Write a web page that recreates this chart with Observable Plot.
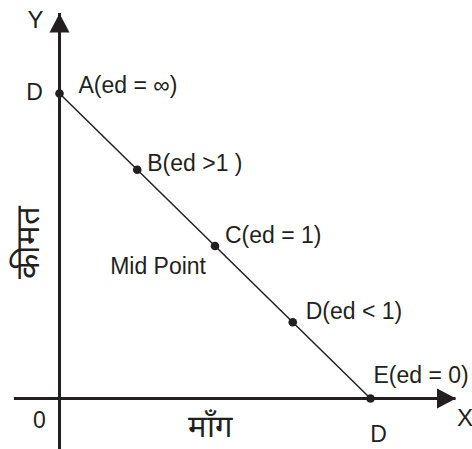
<!DOCTYPE html>
<html>
<head>
<meta charset="utf-8">
<script src="https://cdn.jsdelivr.net/npm/d3@7"></script>
<script src="https://cdn.jsdelivr.net/npm/@observablehq/plot@0.6"></script>
<style>
  html, body { margin: 0; padding: 0; background: #fff; }
  #chart { width: 472px; height: 449px; }
</style>
</head>
<body>
<div id="chart"></div>
<script>
// ---- data ----
const pointNames = ["A", "B", "C", "D", "E"];
const elasticity = ["ed = ∞", "ed >1 ", "ed = 1", "ed < 1", "ed = 0"];
const quantity = [0, 1, 2, 3, 4];
const price = [4, 3, 2, 1, 0];
const xAxisExtent = [-0.58, 5.1];   // quantity axis, drawn from left end to arrow tip
const yAxisExtent = [-0.67, 5.05];  // price axis, drawn from bottom to arrow tip
const axisNames = { x: "X", y: "Y", origin: "0", intercept: "D" };
const xTitle = "माँग";
const yTitle = "कीमत";
const midLabel = "Mid Point";

const ink = "#231f20";
const font = "'Liberation Sans', Arial, Helvetica, sans-serif";

const points = pointNames.map((n, i) => ({
  name: n, q: quantity[i], p: price[i], label: `${n}(${elasticity[i]})`
}));

// arrow head with its tip at the origin, pointing up
const arrowHead = {
  draw(ctx) {
    ctx.moveTo(0, 0);
    ctx.lineTo(-10, 19);
    ctx.lineTo(10, 19);
    ctx.closePath();
  }
};

const labelOffsets = [[19, -1], [10, 1], [10, -3], [13, -3], [3, -16]];

const marks = [
  Plot.ruleY([0], { x1: xAxisExtent[0], x2: xAxisExtent[1], stroke: ink, strokeWidth: 3 }),
  Plot.ruleX([0], { y1: yAxisExtent[0], y2: yAxisExtent[1], stroke: ink, strokeWidth: 3 }),
  Plot.dot([{ q: 0, p: yAxisExtent[1] }], { x: "q", y: "p", symbol: arrowHead, fill: ink, stroke: null, r: 8 }),
  Plot.dot([{ q: xAxisExtent[1], p: 0 }], { x: "q", y: "p", symbol: arrowHead, fill: ink, stroke: null, r: 8, rotate: 90 }),
  Plot.line(points, { x: "q", y: "p", stroke: ink, strokeWidth: 1.5 }),
  Plot.dot(points, { x: "q", y: "p", r: 4.3, fill: ink, stroke: null }),
  ...points.map((d, i) => Plot.text([d], {
    x: "q", y: "p", text: "label", textAnchor: "start", lineAnchor: "bottom",
    dx: labelOffsets[i][0], dy: labelOffsets[i][1], fill: ink, fontSize: 23
  })),
  Plot.text([points[2]], { x: "q", y: "p", text: () => midLabel, textAnchor: "end", lineAnchor: "bottom", dx: -9, dy: 28, fill: ink, fontSize: 23 }),
  // intercept labels
  Plot.text([points[0]], { x: "q", y: "p", text: () => axisNames.intercept, textAnchor: "middle", lineAnchor: "bottom", dx: -25, dy: 6, fill: ink, fontSize: 23 }),
  Plot.text([points[4]], { x: "q", y: "p", text: () => axisNames.intercept, textAnchor: "middle", lineAnchor: "bottom", dx: 8, dy: 43, fill: ink, fontSize: 23 }),
  // origin & axis names
  Plot.text([{ q: 0, p: 0 }], { x: "q", y: "p", text: () => axisNames.origin, textAnchor: "middle", lineAnchor: "bottom", dx: -20, dy: 29, fill: ink, fontSize: 23 }),
  Plot.text([{ q: 0, p: yAxisExtent[1] }], { x: "q", y: "p", text: () => axisNames.y, textAnchor: "middle", lineAnchor: "bottom", dx: -24, dy: 15, fill: ink, fontSize: 24 }),
  Plot.text([{ q: xAxisExtent[1], p: 0 }], { x: "q", y: "p", text: () => axisNames.x, textAnchor: "middle", lineAnchor: "bottom", dx: 9, dy: 27, fill: ink, fontSize: 24 }),
  // axis titles
  Plot.text([{ q: 2, p: 0 }], { x: "q", y: "p", text: () => xTitle, textAnchor: "middle", lineAnchor: "bottom", dx: -5, dy: 38, fill: ink, fontSize: 31 }),
  Plot.text([{ q: 0, p: 2 }], { x: "q", y: "p", text: () => yTitle, textAnchor: "middle", lineAnchor: "middle", rotate: -90, dx: -31, dy: -4, fill: ink, fontSize: 33 })
];

const chart = Plot.plot({
  width: 472,
  height: 449,
  margin: 0,
  x: { domain: [0, 4], range: [59, 370], axis: null },
  y: { domain: [0, 4], range: [398, 93], axis: null },
  style: { fontFamily: font, background: "#fff", color: ink, overflow: "visible" },
  marks
});
document.getElementById("chart").appendChild(chart);
</script>
</body>
</html>
